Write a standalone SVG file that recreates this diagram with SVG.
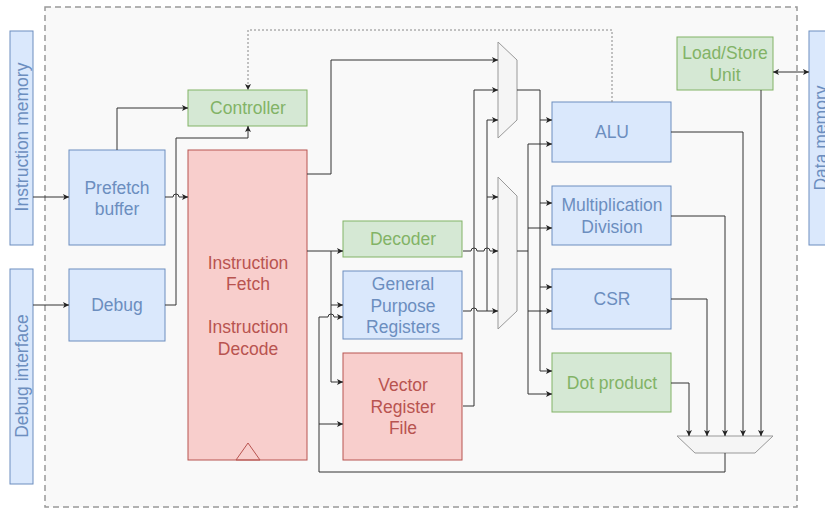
<svg xmlns="http://www.w3.org/2000/svg" width="825" height="508" viewBox="0 0 825 508">
<defs>
<marker id="arr" markerWidth="8" markerHeight="8" refX="6" refY="3.5" orient="auto" markerUnits="userSpaceOnUse">
<path d="M0,0.5 L6,3.5 L0,6.5 L1.5,3.5 Z" fill="#222"/>
</marker>
<marker id="arrS" markerWidth="8" markerHeight="8" refX="0" refY="3.5" orient="auto" markerUnits="userSpaceOnUse">
<path d="M6,0.5 L0,3.5 L6,6.5 L4.5,3.5 Z" fill="#222"/>
</marker>
<style>
text{font-family:"Liberation Sans",Arial,sans-serif;font-size:17.5px;text-anchor:middle;dominant-baseline:central}
.blue{fill:#dae8fc;stroke:#6c8ebf;stroke-width:1}
.green{fill:#d5e8d4;stroke:#82b366;stroke-width:1}
.red{fill:#f8cecc;stroke:#b85450;stroke-width:1}
.tb{fill:#6c8ebf}
.tg{fill:#82b366}
.tr{fill:#b85450}
.mux{fill:#f5f5f5;stroke:#999;stroke-width:1}
#connectors path{fill:none;stroke:#333;stroke-width:1}
#connectors path.a{marker-end:url(#arr)}
#connectors path.dot{stroke:#888;stroke-dasharray:2 2}
</style>
</defs>
<rect x="0" y="0" width="825" height="508" fill="#ffffff"/>
<rect id="container" x="45" y="7" width="752" height="500" fill="#f9f9f9" stroke="#999" stroke-width="1.5" stroke-dasharray="6 4"/>

<g id="instruction-memory">
<rect class="blue" x="10" y="31" width="23" height="214"/>
<text class="tb" transform="translate(21.5,137) rotate(-90)">Instruction memory</text>
</g>
<g id="debug-interface">
<rect class="blue" x="10" y="269" width="23" height="215"/>
<text class="tb" transform="translate(21.5,376) rotate(-90)">Debug interface</text>
</g>
<g id="data-memory">
<rect class="blue" x="809" y="31" width="30" height="214"/>
<text class="tb" transform="translate(820.5,138) rotate(-90)">Data memory</text>
</g>

<g id="prefetch">
<rect class="blue" x="69" y="150" width="96" height="95"/>
<text class="tb" x="117" y="187.5">Prefetch</text>
<text class="tb" x="117" y="208.5">buffer</text>
</g>
<g id="debug">
<rect class="blue" x="69" y="269" width="96" height="72"/>
<text class="tb" x="117" y="305">Debug</text>
</g>
<g id="controller">
<rect class="green" x="188" y="90" width="119" height="36"/>
<text class="tg" x="248" y="108">Controller</text>
</g>
<g id="ifid">
<rect class="red" x="188" y="150" width="119" height="310"/>
<polygon points="236,460 248,443 260,460" fill="none" stroke="#b85450" stroke-width="1"/>
<text class="tr" x="248" y="262.5">Instruction</text>
<text class="tr" x="248" y="284">Fetch</text>
<text class="tr" x="248" y="327">Instruction</text>
<text class="tr" x="248" y="348.5">Decode</text>
</g>
<g id="decoder">
<rect class="green" x="343" y="221" width="119" height="36"/>
<text class="tg" x="403" y="239">Decoder</text>
</g>
<g id="gpr">
<rect class="blue" x="343" y="271" width="119" height="68"/>
<text class="tb" x="403" y="284.3">General</text>
<text class="tb" x="403" y="305.7">Purpose</text>
<text class="tb" x="403" y="327">Registers</text>
</g>
<g id="vrf">
<rect class="red" x="343" y="353" width="119" height="107"/>
<text class="tr" x="403" y="385">Vector</text>
<text class="tr" x="403" y="406.5">Register</text>
<text class="tr" x="403" y="428">File</text>
</g>
<g id="mux1">
<polygon class="mux" points="498,42 517,60 517,120 498,138"/>
</g>
<g id="mux2">
<polygon class="mux" points="498,177 517,196 517,311 498,329"/>
</g>
<g id="lsu">
<rect class="green" x="677" y="37" width="96" height="53"/>
<text class="tg" x="725" y="53.3">Load/Store</text>
<text class="tg" x="725" y="74.7">Unit</text>
</g>
<g id="alu">
<rect class="blue" x="552" y="102" width="119" height="60"/>
<text class="tb" x="612" y="132">ALU</text>
</g>
<g id="muldiv">
<rect class="blue" x="552" y="186" width="119" height="59"/>
<text class="tb" x="612" y="205">Multiplication</text>
<text class="tb" x="612" y="226.7">Division</text>
</g>
<g id="csr">
<rect class="blue" x="552" y="269" width="119" height="60"/>
<text class="tb" x="612" y="299">CSR</text>
</g>
<g id="dot">
<rect class="green" x="552" y="353" width="119" height="59"/>
<text class="tg" x="612" y="383">Dot product</text>
</g>
<g id="out-mux">
<polygon class="mux" points="677,436 773,436 755,453 695,453"/>
</g>

<g id="connectors">
<path class="a" d="M33,197 H69"/>
<path class="a" d="M117,150 V108 H188"/>
<path class="a" d="M165,197 H173 A3,3 0 0 1 179,197 H188"/>
<path class="a" d="M33,305 H69"/>
<path class="a" d="M165,305 H176 V138 H248 V126"/>
<path class="a dot" d="M612,102 V30 H248 V90"/>
<path class="a" d="M307,174 H331 V60 H498"/>
<path class="a" d="M307,251 H343"/>
<path class="a" d="M331,251 V305 H343"/>
<path class="a" d="M331,305 V382 H343"/>
<path class="a" d="M463,251 H471 A3,3 0 0 1 477,251 H484 A3,3 0 0 1 490,251 H498"/>
<path class="a" d="M463,311 H471 A3,3 0 0 1 477,311 H498"/>
<path class="a" d="M487,311 V120 H498"/>
<path class="a" d="M487,197 H498"/>
<path class="a" d="M463,406 H474 V90 H498"/>
<path class="a" d="M517,90 H540 V371 H552"/>
<path class="a" d="M540,120 H552"/>
<path class="a" d="M540,203 H552"/>
<path class="a" d="M540,287 H552"/>
<path d="M517,251 H528"/>
<path class="a" d="M552,144 H528 V394 H552" style="marker-start:url(#arrS);marker-end:url(#arr)"/>
<path class="a" d="M528,228 H552"/>
<path class="a" d="M528,311 H552"/>
<path class="a" d="M671,132 H743 V436"/>
<path class="a" d="M671,216 H725 V436"/>
<path class="a" d="M671,299 H707 V436"/>
<path class="a" d="M671,383 H689 V436"/>
<path class="a" d="M761,90 V436"/>
<path class="a" d="M773,72 H809" style="marker-start:url(#arrS)"/>
<path class="a" d="M725,453 V472 H319 V317 H328 A3,3 0 0 1 334,317 H343"/>
<path class="a" d="M319,424 H343"/>
</g>
</svg>
